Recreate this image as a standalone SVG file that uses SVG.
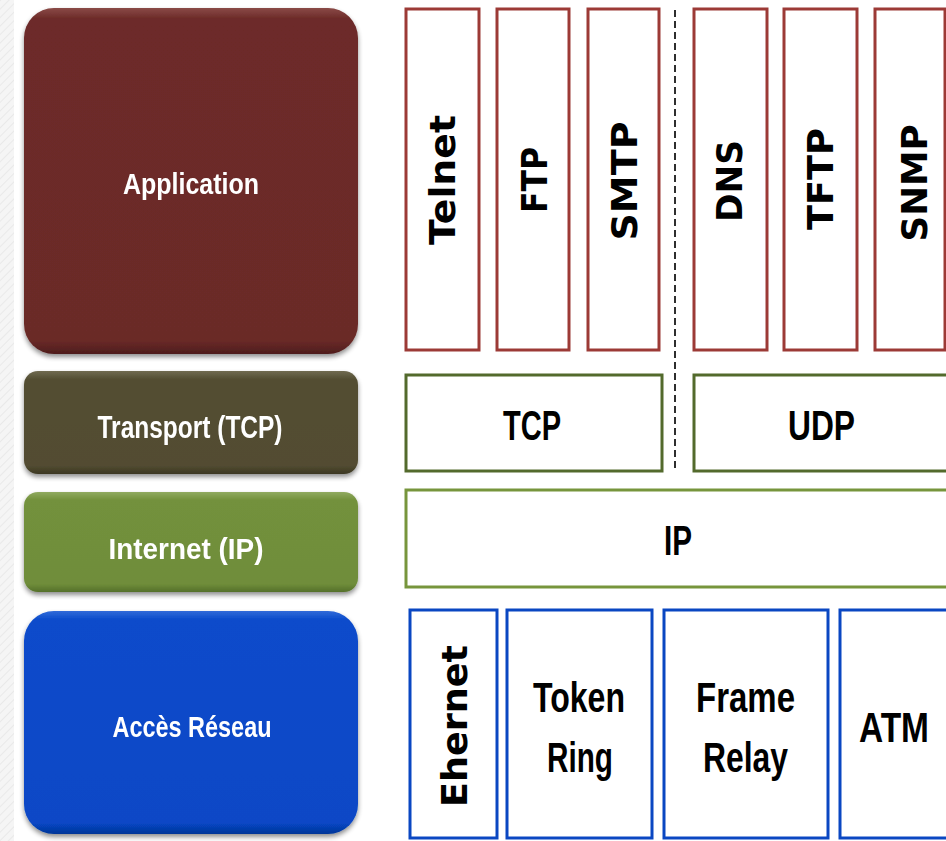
<svg xmlns="http://www.w3.org/2000/svg" width="946" height="841" viewBox="0 0 946 841">
  <defs>
    <pattern id="paper" width="6" height="6" patternUnits="userSpaceOnUse" patternTransform="rotate(45)">
      <rect width="6" height="6" fill="#f5f5f5"/>
      <line x1="0" y1="0" x2="0" y2="6" stroke="#e9e9e9" stroke-width="2"/>
    </pattern>
    <filter id="shadow" x="-10%" y="-10%" width="120%" height="125%">
      <feGaussianBlur in="SourceAlpha" stdDeviation="2.5"/>
      <feOffset dx="0" dy="3" result="off"/>
      <feComponentTransfer><feFuncA type="linear" slope="0.45"/></feComponentTransfer>
      <feMerge><feMergeNode/><feMergeNode in="SourceGraphic"/></feMerge>
    </filter>
    <linearGradient id="gApp" x1="0" y1="0" x2="0" y2="1">
      <stop offset="0" stop-color="#8a4a47"/>
      <stop offset="0.03" stop-color="#6d2b29"/>
      <stop offset="0.96" stop-color="#6b2a28"/>
      <stop offset="1" stop-color="#4e1d1c"/>
    </linearGradient>
    <linearGradient id="gTrans" x1="0" y1="0" x2="0" y2="1">
      <stop offset="0" stop-color="#6f6a50"/>
      <stop offset="0.08" stop-color="#534e33"/>
      <stop offset="0.92" stop-color="#524c31"/>
      <stop offset="1" stop-color="#3b3722"/>
    </linearGradient>
    <linearGradient id="gNet" x1="0" y1="0" x2="0" y2="1">
      <stop offset="0" stop-color="#90aa60"/>
      <stop offset="0.08" stop-color="#73913c"/>
      <stop offset="0.92" stop-color="#6f8d3a"/>
      <stop offset="1" stop-color="#55702a"/>
    </linearGradient>
    <linearGradient id="gAcc" x1="0" y1="0" x2="0" y2="1">
      <stop offset="0" stop-color="#2f6ad8"/>
      <stop offset="0.04" stop-color="#0a4bcb"/>
      <stop offset="0.95" stop-color="#0747c6"/>
      <stop offset="1" stop-color="#053597"/>
    </linearGradient>
    <style>
      .layer-label { font-family: "Liberation Sans", Arial, sans-serif; font-weight: bold; fill: #ffffff; text-anchor: middle; }
      .proto { font-family: "Liberation Sans", Arial, sans-serif; font-weight: bold; fill: #000000; text-anchor: middle; font-size: 43px; }
      .vproto { font-family: "DejaVu Sans", Verdana, sans-serif; font-weight: bold; fill: #000000; text-anchor: middle; font-size: 35px; }
      .app-box { fill: #ffffff; stroke: #9c3a36; stroke-width: 3; }
      .tcp-box { fill: #ffffff; stroke: #536a2c; stroke-width: 3; }
      .ip-box { fill: #ffffff; stroke: #77953c; stroke-width: 3; }
      .net-box { fill: #ffffff; stroke: #0a47c2; stroke-width: 3; }
    </style>
  </defs>

  <rect width="946" height="841" fill="#ffffff"/>
  <!-- textured margin on the left -->
  <rect x="0" y="0" width="14" height="841" fill="url(#paper)"/>

  <!-- layer blocks -->
  <g id="layer-application" filter="url(#shadow)">
    <rect x="24" y="8" width="334" height="346" rx="30" fill="url(#gApp)"/>
    <text class="layer-label" x="191" y="194" font-size="30" textLength="136" lengthAdjust="spacingAndGlyphs">Application</text>
  </g>
  <g id="layer-transport" filter="url(#shadow)">
    <rect x="24" y="371" width="334" height="103" rx="14" fill="url(#gTrans)"/>
    <text class="layer-label" x="190" y="438" font-size="32" textLength="185" lengthAdjust="spacingAndGlyphs">Transport (TCP)</text>
  </g>
  <g id="layer-internet" filter="url(#shadow)">
    <rect x="24" y="492" width="334" height="100" rx="14" fill="url(#gNet)"/>
    <text class="layer-label" x="186" y="559" font-size="30" textLength="155" lengthAdjust="spacingAndGlyphs">Internet (IP)</text>
  </g>
  <g id="layer-access" filter="url(#shadow)">
    <rect x="24" y="611" width="334" height="223" rx="30" fill="url(#gAcc)"/>
    <text class="layer-label" x="192" y="737" font-size="29" textLength="159" lengthAdjust="spacingAndGlyphs">Accès Réseau</text>
  </g>

  <!-- application protocols -->
  <g id="proto-telnet">
    <rect class="app-box" x="406" y="9" width="73" height="341"/>
    <text class="vproto" transform="translate(455,180) rotate(-90)" textLength="130" lengthAdjust="spacingAndGlyphs">Telnet</text>
  </g>
  <g id="proto-ftp">
    <rect class="app-box" x="497" y="9" width="72" height="341"/>
    <text class="vproto" transform="translate(547,180) rotate(-90)" textLength="66" lengthAdjust="spacingAndGlyphs">FTP</text>
  </g>
  <g id="proto-smtp">
    <rect class="app-box" x="588" y="9" width="71" height="341"/>
    <text class="vproto" transform="translate(637,181) rotate(-90)" textLength="119" lengthAdjust="spacingAndGlyphs">SMTP</text>
  </g>
  <g id="proto-dns">
    <rect class="app-box" x="694" y="9" width="73" height="341"/>
    <text class="vproto" transform="translate(742,181) rotate(-90)" textLength="82" lengthAdjust="spacingAndGlyphs">DNS</text>
  </g>
  <g id="proto-tftp">
    <rect class="app-box" x="784" y="9" width="73" height="341"/>
    <text class="vproto" transform="translate(833,179) rotate(-90)" textLength="102" lengthAdjust="spacingAndGlyphs">TFTP</text>
  </g>
  <g id="proto-snmp">
    <rect class="app-box" x="875" y="9" width="70" height="341"/>
    <text class="vproto" transform="translate(927,183) rotate(-90)" textLength="117" lengthAdjust="spacingAndGlyphs">SNMP</text>
  </g>

  <!-- transport protocols -->
  <g id="proto-tcp">
    <rect class="tcp-box" x="406" y="375" width="256" height="96"/>
    <text class="proto" x="532" y="440" textLength="58" lengthAdjust="spacingAndGlyphs">TCP</text>
  </g>
  <g id="proto-udp">
    <rect class="tcp-box" x="694" y="375" width="256" height="96"/>
    <text class="proto" x="821.5" y="440" textLength="67" lengthAdjust="spacingAndGlyphs">UDP</text>
  </g>

  <!-- internet protocol -->
  <g id="proto-ip">
    <rect class="ip-box" x="406" y="490" width="545" height="97"/>
    <text class="proto" x="678" y="555" textLength="28" lengthAdjust="spacingAndGlyphs">IP</text>
  </g>

  <!-- network access technologies -->
  <g id="tech-ethernet">
    <rect class="net-box" x="410" y="610" width="87" height="228"/>
    <text class="vproto" transform="translate(467,726) rotate(-90)" textLength="162" lengthAdjust="spacingAndGlyphs">Ehernet</text>
  </g>
  <g id="tech-token-ring">
    <rect class="net-box" x="507" y="610" width="145" height="228"/>
    <text class="proto" x="579" y="712" textLength="92" lengthAdjust="spacingAndGlyphs">Token</text>
    <text class="proto" x="580" y="772" textLength="66" lengthAdjust="spacingAndGlyphs">Ring</text>
  </g>
  <g id="tech-frame-relay">
    <rect class="net-box" x="664" y="610" width="164" height="228"/>
    <text class="proto" x="745.5" y="712" textLength="99" lengthAdjust="spacingAndGlyphs">Frame</text>
    <text class="proto" x="745.5" y="772" textLength="85" lengthAdjust="spacingAndGlyphs">Relay</text>
  </g>
  <g id="tech-atm">
    <rect class="net-box" x="840" y="610" width="110" height="228"/>
    <text class="proto" x="894" y="742" textLength="70" lengthAdjust="spacingAndGlyphs">ATM</text>
  </g>

  <!-- dashed divider between TCP-based and UDP-based stacks -->
  <g id="dividers">
    <line x1="675" y1="10" x2="675" y2="468" stroke="#2e2e2e" stroke-width="2" stroke-dasharray="7 4"/>
  </g>
</svg>
